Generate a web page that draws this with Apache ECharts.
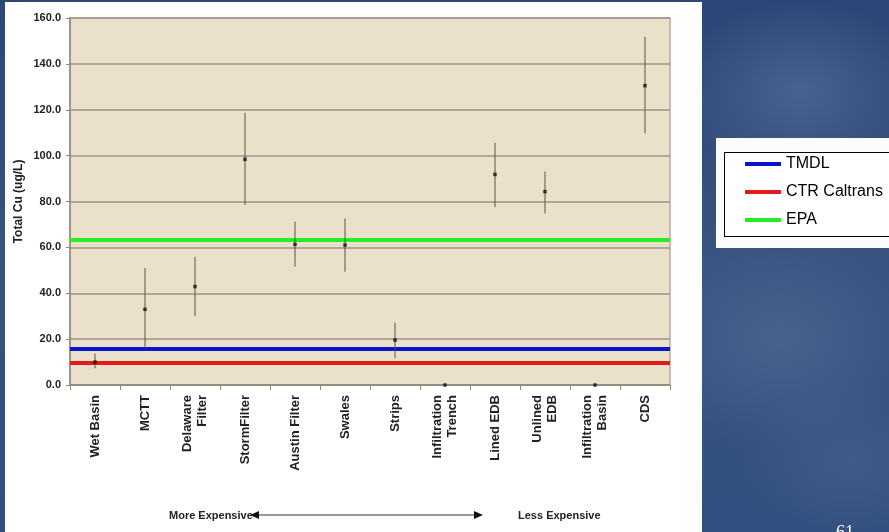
<!DOCTYPE html>
<html>
<head>
<meta charset="utf-8">
<script src="https://cdn.jsdelivr.net/npm/echarts@6/dist/echarts.min.js"></script>
<style>
  html, body { margin: 0; padding: 0; }
  body {
    width: 889px; height: 532px; overflow: hidden; position: relative;
    background:
      radial-gradient(ellipse 120px 90px at 800px 90px, rgba(120,140,180,0.35), rgba(120,140,180,0) 100%),
      radial-gradient(ellipse 140px 110px at 780px 340px, rgba(110,130,170,0.35), rgba(110,130,170,0) 100%),
      radial-gradient(ellipse 110px 80px at 850px 460px, rgba(90,115,160,0.3), rgba(90,115,160,0) 100%),
      linear-gradient(180deg, #2c4677 0%, #37537f 45%, #32507f 100%);
  }
  #panel { position: absolute; left: 5px; top: 2px; width: 697px; height: 540px; background: #ffffff; }
  #legendPad { position: absolute; left: 716px; top: 138px; width: 200px; height: 110px; background: #fbfcfc; }
  #legendBox { position: absolute; left: 724px; top: 152px; width: 200px; height: 83px; border: 1px solid #000; background: #ffffff; }
  #chart { position: absolute; left: 0; top: 0; width: 889px; height: 532px; }
</style>
</head>
<body>
<div id="panel"></div>
<div id="legendPad"></div>
<div id="legendBox"></div>
<div id="chart"></div>
<script>
// BMP types along the cost axis
const categories = ['Wet Basin', 'MCTT', 'Delaware\nFilter', 'StormFilter', 'Austin Filter', 'Swales',
  'Strips', 'Infiltration\nTrench', 'Lined EDB', 'Unlined\nEDB', 'Infiltration\nBasin', 'CDS'];
// Mean effluent total copper (ug/L) and its range
const meanCu = [10.0, 33.0, 42.9, 98.4, 61.3, 61.0, 19.6, 0, 91.8, 84.3, 0, 130.5];
const lowCu  = [7.3, 16.0, 30.1, 78.5, 51.6, 49.4, 11.6, 0, 77.5, 74.8, 0, 109.7];
const highCu = [13.7, 50.9, 55.9, 118.7, 71.2, 72.6, 27.2, 0, 105.6, 93.0, 0, 151.8];
// Regulatory limits (ug/L)
const limitNames = ['TMDL', 'CTR Caltrans', 'EPA'];
const limitValues = [15.6, 9.5, 63.5];
const limitColors = ['#0a14c8', '#e41b1b', '#22ee22'];
// Y axis ticks
const yMin = 0, yMax = 160, yStep = 20;

const chart = echarts.init(document.getElementById('chart'), null, { renderer: 'canvas' });

const rangeData = categories.map((c, i) => [i, lowCu[i], highCu[i]]);
const meanData = categories.map((c, i) => [i, meanCu[i]]);

const limitSeries = limitNames.map((name, i) => ({
  name: name,
  type: 'line',
  data: [],
  symbol: 'none',
  color: limitColors[i],
  lineStyle: { color: limitColors[i], width: 4 },
  z: 5,
  markLine: {
    silent: true,
    symbol: 'none',
    label: { show: false },
    lineStyle: { color: limitColors[i], width: 4, type: 'solid', opacity: 1 },
    data: [{ yAxis: limitValues[i] }]
  }
}));

chart.setOption({
  backgroundColor: 'transparent',
  animation: false,
  grid: {
    left: 70, right: 219, top: 18, bottom: 147,
    show: true, backgroundColor: '#ebe0ca', borderColor: '#c4beb2', borderWidth: 2
  },
  legend: {
    data: limitNames,
    orient: 'vertical',
    left: 745, top: 156,
    padding: 0,
    itemGap: 12,
    itemWidth: 36, itemHeight: 4,
    icon: 'rect',
    textStyle: { fontFamily: 'Liberation Sans, Arial, sans-serif', fontSize: 16, color: '#000' }
  },
  xAxis: {
    type: 'category',
    data: categories,
    boundaryGap: true,
    axisLine: { lineStyle: { color: '#8f887c', width: 1.5 } },
    axisTick: { show: true, length: 5, interval: 0, lineStyle: { color: '#8f887c', width: 1 } },
    axisLabel: {
      interval: 0, rotate: 90, margin: 10,
      fontFamily: 'Liberation Sans, Arial, sans-serif', fontWeight: 'bold', fontSize: 13,
      lineHeight: 15, color: '#222', align: 'right', verticalAlign: 'middle'
    },
    splitLine: { show: false }
  },
  yAxis: {
    type: 'value',
    min: yMin, max: yMax, interval: yStep,
    name: 'Total Cu (ug/L)',
    nameLocation: 'middle',
    nameGap: 45,
    nameMoveOverlap: false,
    nameRotate: 90,
    nameTextStyle: { fontFamily: 'Liberation Sans, Arial, sans-serif', fontWeight: 'bold', fontSize: 12, color: '#222' },
    axisLine: { show: true, lineStyle: { color: '#8f887c', width: 1.5 } },
    axisTick: { show: true, length: 4, lineStyle: { color: '#8f887c' } },
    axisLabel: {
      margin: 9,
      formatter: v => v.toFixed(1),
      fontFamily: 'Liberation Sans, Arial, sans-serif', fontWeight: 'bold', fontSize: 11, color: '#222'
    },
    splitLine: { show: true, lineStyle: { color: '#9d9487', width: 1.5 } }
  },
  series: [
    {
      name: 'Range',
      type: 'custom',
      z: 6,
      renderItem: function (params, api) {
        const x = api.value(0);
        const lo = api.coord([x, api.value(1)]);
        const hi = api.coord([x, api.value(2)]);
        return {
          type: 'line',
          shape: { x1: lo[0], y1: lo[1], x2: hi[0], y2: hi[1] },
          style: { stroke: '#5b5247', lineWidth: 1 }
        };
      },
      encode: { x: 0, y: [1, 2] },
      data: rangeData
    },
    {
      name: 'Mean',
      type: 'scatter',
      symbol: 'rect',
      symbolSize: 3.5,
      z: 7,
      itemStyle: { color: '#111' },
      data: meanData
    }
  ].concat(limitSeries),
  graphic: [
    {
      type: 'text', left: 169, top: 510,
      style: { text: 'More Expensive', fontFamily: 'Liberation Sans, Arial, sans-serif', fontWeight: 'bold', fontSize: 11, fill: '#222' }
    },
    {
      type: 'text', left: 518, top: 510,
      style: { text: 'Less Expensive', fontFamily: 'Liberation Sans, Arial, sans-serif', fontWeight: 'bold', fontSize: 11, fill: '#222' }
    },
    {
      type: 'line',
      shape: { x1: 256, y1: 515, x2: 478, y2: 515 },
      style: { stroke: '#333', lineWidth: 1 }
    },
    {
      type: 'polygon',
      shape: { points: [[250, 515], [259, 511], [259, 519]] },
      style: { fill: '#111' }
    },
    {
      type: 'polygon',
      shape: { points: [[483, 515], [474, 511], [474, 519]] },
      style: { fill: '#111' }
    },
    {
      type: 'text', left: 836, top: 524,
      style: { text: '61', fontFamily: 'Liberation Serif, Times New Roman, serif', fontSize: 18, fill: '#ffffff' }
    }
  ]
});
</script>
</body>
</html>
